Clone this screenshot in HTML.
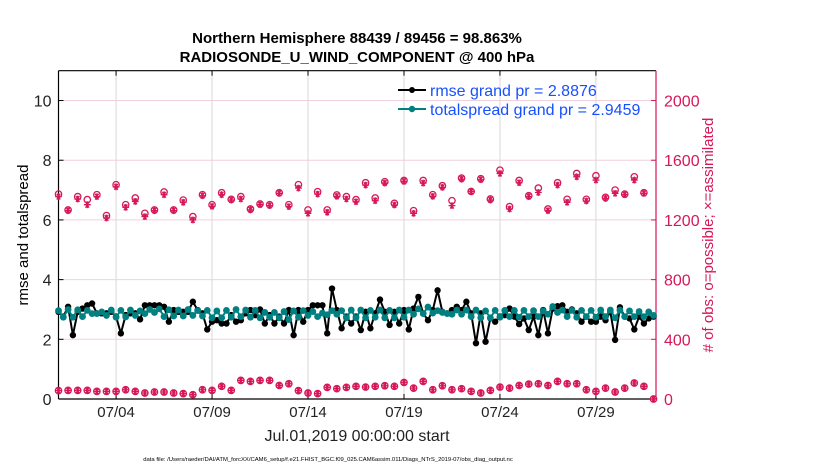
<!DOCTYPE html>
<html><head><meta charset="utf-8">
<style>
body{margin:0;background:#fff;}
svg{display:block;font-family:"Liberation Sans",Arial,sans-serif;}
</style></head>
<body>
<svg id="chart" width="830" height="470" viewBox="0 0 830 470" xmlns="http://www.w3.org/2000/svg">
<rect width="830" height="470" fill="#fff"/>
<text x="357" y="43" text-anchor="middle" font-size="15" font-weight="bold">Northern Hemisphere 88439 / 89456 = 98.863%</text>
<text x="357" y="62" text-anchor="middle" font-size="15" font-weight="bold">RADIOSONDE_U_WIND_COMPONENT @ 400 hPa</text>
<g id="grid"></g>
<g id="axes"></g>
<g id="marks"></g>
<g id="legend">
  <line x1="398" y1="90" x2="426" y2="90" stroke="#000" stroke-width="2"/>
  <circle cx="412" cy="90" r="3" fill="#000"/>
  <text x="430" y="96" font-size="16" fill="#1750ff">rmse grand pr = 2.8876</text>
  <line x1="398" y1="109" x2="426" y2="109" stroke="#008080" stroke-width="2"/>
  <circle cx="412" cy="109" r="3.2" fill="#008080"/>
  <text x="430" y="115" font-size="16" fill="#1750ff">totalspread grand pr = 2.9459</text>
</g>
<text transform="translate(28,235) rotate(-90)" text-anchor="middle" font-size="15">rmse and totalspread</text>
<text transform="translate(713,235) rotate(-90)" text-anchor="middle" font-size="15" fill="#d6175a"># of obs: o=possible; ×=assimilated</text>
<text x="357" y="441" text-anchor="middle" font-size="16" fill="#222">Jul.01,2019 00:00:00 start</text>
<text x="328" y="461" text-anchor="middle" font-size="5.9" fill="#000">data file: /Users/raeder/DAI/ATM_forcXX/CAM6_setup/f.e21.FHIST_BGC.f09_025.CAM6assim.011/Diags_NTrS_2019-07/obs_diag_output.nc</text>
</svg>
<script>
// ---- data ----
const dateLabels = ["07/04","07/09","07/14","07/19","07/24","07/29"];
const dateTicks = [3,8,13,18,23,28];           // days since Jul 01 00Z
const leftTicks = [0,2,4,6,8,10];
const rightTicks = [0,400,800,1200,1600,2000];
const rmse = [2.92,2.76,3.09,2.14,2.92,3.03,3.14,3.2,2.87,2.87,2.87,2.92,2.76,2.2,2.81,2.87,2.87,2.67,3.14,3.14,3.14,3.14,3.09,2.59,2.98,2.92,2.92,2.92,3.26,2.98,2.87,2.33,2.59,2.64,2.53,2.53,2.81,2.59,2.64,2.87,2.98,2.81,3.0,2.53,2.81,2.53,2.76,2.53,2.98,2.14,2.98,2.59,2.98,3.14,3.14,3.14,2.2,3.7,2.98,2.37,2.76,2.53,2.76,2.31,2.92,2.37,2.87,3.33,2.92,2.48,2.92,2.53,2.98,2.33,3.03,3.42,2.87,2.64,2.98,3.64,2.92,2.87,2.98,3.09,2.98,3.26,2.87,1.87,2.87,1.92,2.7,2.59,2.76,2.81,3.03,2.76,2.51,2.7,2.31,2.76,2.14,2.98,2.2,3.03,3.11,3.14,2.92,3.0,2.87,2.59,2.76,2.59,2.59,2.76,2.64,2.92,1.98,3.07,2.76,2.7,2.33,2.76,2.53,2.7,2.76];
const spread = [2.96,2.74,3.0,2.74,2.99,2.76,2.97,2.86,2.86,2.92,2.8,2.98,2.74,2.97,2.75,2.98,2.8,2.95,2.86,3.0,2.9,3.02,2.76,2.99,2.78,2.98,2.78,3.0,2.8,2.96,2.78,2.97,2.72,2.95,2.72,2.97,2.74,3.0,2.76,2.98,2.74,2.97,2.72,2.9,2.74,2.9,2.72,2.93,2.66,2.95,2.74,2.96,2.8,2.93,2.76,2.88,2.82,2.96,2.84,2.96,2.72,2.98,2.72,2.98,2.72,2.97,2.74,2.98,2.72,2.97,2.72,2.98,2.74,2.98,2.84,3.02,2.86,3.08,2.88,2.96,2.9,2.86,2.84,2.98,2.84,2.98,2.76,2.98,2.72,2.95,2.72,2.97,2.74,2.97,2.76,2.97,2.74,2.97,2.76,2.96,2.76,2.95,2.84,3.1,2.9,2.98,2.76,2.97,2.74,2.97,2.76,2.97,2.74,2.98,2.76,2.98,2.72,2.98,2.76,2.95,2.76,2.93,2.76,2.92,2.8];
const obsPossible = [1373,1267,1356,1336,1369,1229,1436,1302,1347,1244,1267,1387,1267,1333,1222,1369,1302,1382,1338,1356,1273,1307,1302,1382,1302,1436,1267,1389,1267,1367,1356,1336,1449,1347,1456,1311,1464,1262,1464,1369,1429,1329,1480,1391,1476,1340,1533,1289,1464,1362,1413,1273,1449,1338,1511,1338,1496,1351,1400,1373,1489,1382];
const obsUsed = [1356,1262,1340,1302,1356,1213,1422,1284,1324,1222,1262,1369,1262,1318,1200,1362,1291,1369,1333,1340,1267,1302,1296,1378,1289,1413,1244,1373,1251,1358,1340,1322,1433,1329,1447,1300,1458,1244,1447,1358,1418,1296,1473,1391,1469,1333,1511,1273,1449,1356,1384,1262,1433,1318,1489,1327,1467,1344,1378,1369,1467,1378];
const obsLow = [56,58,58,58,51,51,51,62,51,40,47,47,40,36,29,62,58,85,58,125,118,125,125,91,102,56,40,36,78,69,78,85,80,85,89,85,111,73,118,62,89,62,69,51,40,58,80,73,91,100,102,91,118,102,102,62,51,73,47,73,107,85,0];

// ---- scales ----
const X0=58.5, X1=656, Y0=399, Y1=70.7, TMAX=31.13, LMAX=11, RMAX=2200;
const xs = t => X0 + t/TMAX*(X1-X0);
const yl = v => Y0 - v/LMAX*(Y0-Y1);
const yr = v => Y0 - v/RMAX*(Y0-Y1);
const NS="http://www.w3.org/2000/svg";
function mk(tag, attrs, parent){const e=document.createElementNS(NS,tag);for(const k in attrs)e.setAttribute(k,attrs[k]);parent.appendChild(e);return e;}
const grid=document.getElementById('grid'), axes=document.getElementById('axes'), marks=document.getElementById('marks');
const RED="#d6175a";

// grid
dateTicks.forEach((t,i)=>{
  const g=mk('line',{x1:xs(t),x2:xs(t),y1:Y1,y2:Y0,stroke:'#d8d8d8','stroke-width':1},grid);
  
  
  const tk=mk('line',{x1:xs(t),x2:xs(t),y1:Y0,y2:Y0-5,stroke:'#000'},axes);
  
  
  const tk2=mk('line',{x1:xs(t),x2:xs(t),y1:Y1,y2:Y1+5,stroke:'#000'},axes);
  
  
  const lb=mk('text',{x:xs(t),y:417,'text-anchor':'middle','font-size':15,fill:'#222'},axes);
  lb.textContent=dateLabels[i];
  
  
});
leftTicks.forEach(v=>{
  if(v>0){const g=mk('line',{x1:X0,x2:X1,y1:yl(v),y2:yl(v),stroke:'#f0d0dc','stroke-width':1},grid);
  
  }
  const tk=mk('line',{x1:X0,x2:X0+5,y1:yl(v),y2:yl(v),stroke:'#000'},axes);
  
  
  const lb=mk('text',{x:X0-7,y:yl(v)+6,'text-anchor':'end','font-size':16,fill:'#222'},axes);
  lb.textContent=v;
  
  
});
rightTicks.forEach(v=>{
  const tk=mk('line',{x1:X1-5,x2:X1,y1:yr(v),y2:yr(v),stroke:RED},axes);
  
  
  const lb=mk('text',{x:X1+8,y:yr(v)+6,'font-size':16,fill:RED},axes);
  lb.textContent=v;
  
  
});
const frame=[['left-axis',X0,Y1,X0,Y0,'#000'],['bottom-axis',X0,Y0,X1,Y0,'#000'],['top-border',X0,Y1,X1,Y1,'#000'],['right-axis',X1,Y1,X1,Y0,RED]];
frame.forEach(f=>{const l=mk('line',{x1:f[1],y1:f[2],x2:f[3],y2:f[4],stroke:f[5],'stroke-width':1.2},axes);
  
  });

// obs markers
function star(cx,cy,r,col,parent){
  let d='';[0,60,120].forEach(a=>{const c=Math.cos(a*Math.PI/180)*r,s=Math.sin(a*Math.PI/180)*r;d+=`M${cx-c},${cy-s}L${cx+c},${cy+s}`;});
  d+=`M${cx},${cy-r}L${cx},${cy+r}`;
  return mk('path',{d:d,stroke:col,'stroke-width':1.3,fill:'none'},parent);
}
obsPossible.forEach((v,i)=>{
  const c=mk('circle',{cx:xs(i*0.5),cy:yr(v),r:3.2,fill:'none',stroke:RED,'stroke-width':1.3},marks);
  
  
});
obsUsed.forEach((v,i)=>{
  const s=star(xs(i*0.5),yr(v),3.4,RED,marks);
  
  
});
obsLow.forEach((v,i)=>{
  const t=Math.min(i*0.5,TMAX);
  const c=mk('circle',{cx:xs(t),cy:yr(v),r:3.2,fill:'none',stroke:RED,'stroke-width':1.3},marks);
  
  
  const s=star(xs(t),yr(v),3.4,RED,marks);
  
  
});

// lines
function series(vals,col,name,r){
  const pts=vals.map((v,i)=>xs(i*0.25)+','+yl(v)).join(' ');
  const pl=mk('polyline',{points:pts,fill:'none',stroke:col,'stroke-width':2},marks);
  
  
  vals.forEach((v,i)=>{
    const c=mk('circle',{cx:xs(i*0.25),cy:yl(v),r:r,fill:col},marks);
    
    
  });
}
series(rmse,'#000','rmse',3.2);
series(spread,'#008080','totalspread',3.4);
</script>
</body></html>
